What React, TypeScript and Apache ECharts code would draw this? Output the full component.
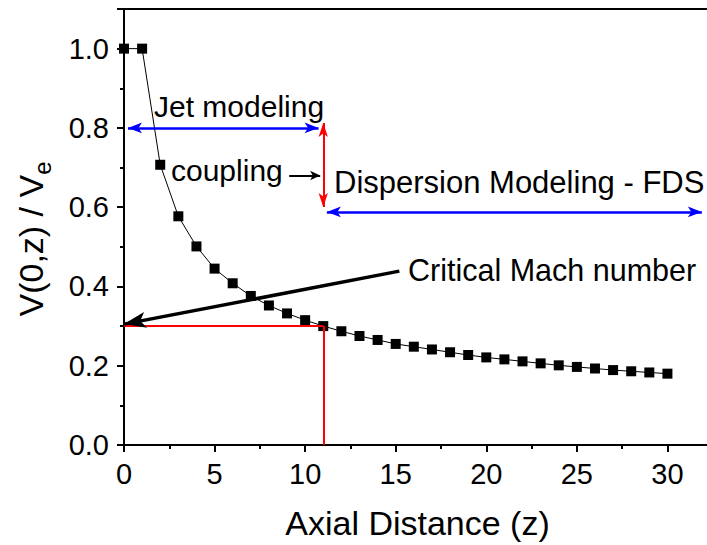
import React, { useEffect, useRef } from 'react';
import * as echarts from 'echarts';

const zValues = [0, 1, 2, 3, 4, 5, 6, 7, 8, 9, 10, 11, 12, 13, 14, 15, 16, 17, 18, 19, 20, 21, 22, 23, 24, 25, 26, 27, 28, 29, 30];
const velocityRatio = [1.0, 1.0, 0.707, 0.577, 0.501, 0.445, 0.408, 0.376, 0.352, 0.332, 0.315, 0.3, 0.287, 0.275, 0.265, 0.255, 0.248, 0.241, 0.234, 0.227, 0.221, 0.216, 0.211, 0.206, 0.201, 0.197, 0.193, 0.189, 0.186, 0.183, 0.18];

const xMin = 0;
const xMax = 35;
const xInterval = 5;
const yMin = 0;
const yMax = 1.1;
const yInterval = 0.2;

// annotation arrows in data coordinates [z, V] (arrow tips)
const jetArrow = [[0.22, 0.8], [10.74, 0.8]];
const couplingArrow = [[11, 0.8125], [11, 0.6007]];
const fdsArrow = [[11.2, 0.588], [31.9, 0.588]];
const couplingPointer = [[9.12, 0.68], [10.83, 0.68]];
const machArrow = [[15.2, 0.4386], [0.0, 0.305]];
const machLevel = 0.3;
const couplingZ = 11;

const FONT = '"Liberation Sans", Arial, Helvetica, sans-serif';

export default function App() {
  const ref = useRef<HTMLDivElement>(null);
  useEffect(() => {
    if (!ref.current) return;
    const chart = echarts.init(ref.current, undefined, { renderer: 'svg' });
    const arrowEnd = (c: number[], size: number[]) => ({ coord: c, symbol: 'arrow', symbolSize: size });
    const plainEnd = (c: number[]) => ({ coord: c, symbol: 'none' });
    chart.setOption({
      animation: false,
      backgroundColor: '#ffffff',
      grid: { left: 123, top: 9, bottom: 100, right: 0, containLabel: false },
      xAxis: [
        {
          type: 'value',
          min: xMin,
          max: xMax,
          interval: xInterval,
          position: 'bottom',
          name: 'Axial Distance (z)',
          nameLocation: 'middle',
          nameGap: 61,
          nameTextStyle: { fontFamily: FONT, fontSize: 34, color: '#000', padding: [0, 47, 0, 0] },
          axisLine: { show: true, onZero: false, lineStyle: { color: '#000', width: 2 } },
          axisTick: { show: true, inside: false, length: 7, lineStyle: { color: '#000', width: 2 } },
          minorTick: { show: true, splitNumber: 2, length: 4, lineStyle: { color: '#000', width: 2 } },
          axisLabel: {
            fontFamily: FONT,
            fontSize: 29,
            color: '#000',
            margin: 14,
            formatter: (v: number) => (v % 5 === 0 && v <= 30 ? String(v) : ''),
          },
          splitLine: { show: false },
        },
        {
          type: 'value',
          min: xMin,
          max: xMax,
          position: 'top',
          axisLine: { show: true, onZero: false, lineStyle: { color: '#000', width: 2 } },
          axisTick: { show: false },
          axisLabel: { show: false },
          splitLine: { show: false },
        },
      ],
      yAxis: {
        type: 'value',
        min: yMin,
        max: yMax,
        interval: yInterval,
        name: 'V(0,z) / V{sub|e}',
        nameLocation: 'middle',
        nameGap: 70,
        nameTextStyle: {
          fontFamily: FONT,
          fontSize: 34,
          color: '#000',
          lineHeight: 46,
          padding: [0, 24, 0, 0],
          rich: {
            sub: { fontFamily: FONT, fontSize: 24, color: '#000', verticalAlign: 'bottom', lineHeight: 26 },
          },
        },
        axisLine: { show: true, onZero: false, lineStyle: { color: '#000', width: 2 } },
        axisTick: { show: true, inside: false, length: 7, lineStyle: { color: '#000', width: 2 } },
        minorTick: { show: true, splitNumber: 2, length: 4, lineStyle: { color: '#000', width: 2 } },
        axisLabel: {
          fontFamily: FONT,
          fontSize: 29,
          color: '#000',
          margin: 15,
          formatter: (v: number) => {
            const r = Math.round(v * 5) / 5;
            return Math.abs(v - r) < 1e-6 && v <= 1.0001 ? v.toFixed(1) : '';
          },
        },
        splitLine: { show: false },
      },
      series: [
        {
          type: 'line',
          data: zValues.map((z, i) => [z, velocityRatio[i]]),
          symbol: 'rect',
          symbolSize: 10,
          clip: false,
          itemStyle: { color: '#000' },
          lineStyle: { color: '#000', width: 1 },
          markLine: {
            silent: true,
            animation: false,
            label: { show: false },
            emphasis: { disabled: true },
            data: [
              [
                { ...plainEnd([0, machLevel]), lineStyle: { color: '#ff0000', width: 2, type: 'solid' } },
                plainEnd([couplingZ, machLevel]),
              ],
              [
                { ...plainEnd([couplingZ, machLevel]), lineStyle: { color: '#ff0000', width: 2, type: 'solid' } },
                plainEnd([couplingZ, 0]),
              ],
              [
                { ...arrowEnd(jetArrow[0], [8, 14]), lineStyle: { color: '#0000ff', width: 2.5, type: 'solid' } },
                arrowEnd(jetArrow[1], [8, 14]),
              ],
              [
                { ...arrowEnd(fdsArrow[0], [8, 14]), lineStyle: { color: '#0000ff', width: 2.5, type: 'solid' } },
                arrowEnd(fdsArrow[1], [8, 14]),
              ],
              [
                { ...arrowEnd(couplingArrow[0], [7, 14]), lineStyle: { color: '#ff0000', width: 2, type: 'solid' } },
                arrowEnd(couplingArrow[1], [7, 14]),
              ],
              [
                { ...plainEnd(couplingPointer[0]), lineStyle: { color: '#000', width: 2, type: 'solid' } },
                arrowEnd(couplingPointer[1], [7, 10]),
              ],
              [
                { ...plainEnd(machArrow[0]), lineStyle: { color: '#000', width: 3.5, type: 'solid' } },
                arrowEnd(machArrow[1], [12, 22]),
              ],
            ],
          },
        },
      ],
      graphic: [
        { type: 'text', left: 154, top: 91, style: { text: 'Jet modeling', font: `30px ${FONT}`, fill: '#000' } },
        { type: 'text', left: 171, top: 155, style: { text: 'coupling', font: `30px ${FONT}`, fill: '#000' } },
        { type: 'text', left: 334, top: 167, style: { text: 'Dispersion Modeling - FDS', font: `31px ${FONT}`, fill: '#000' } },
        { type: 'text', left: 408, top: 254, style: { text: 'Critical Mach number', font: `30.5px ${FONT}`, fill: '#000' } },
      ],
    });
    return () => chart.dispose();
  }, []);
  return (
    <div style={{ position: 'absolute', left: 0, top: 0, width: 707, height: 545, overflow: 'hidden', background: '#fff' }}>
      <div ref={ref} style={{ width: 761, height: 545 }} />
    </div>
  );
}
